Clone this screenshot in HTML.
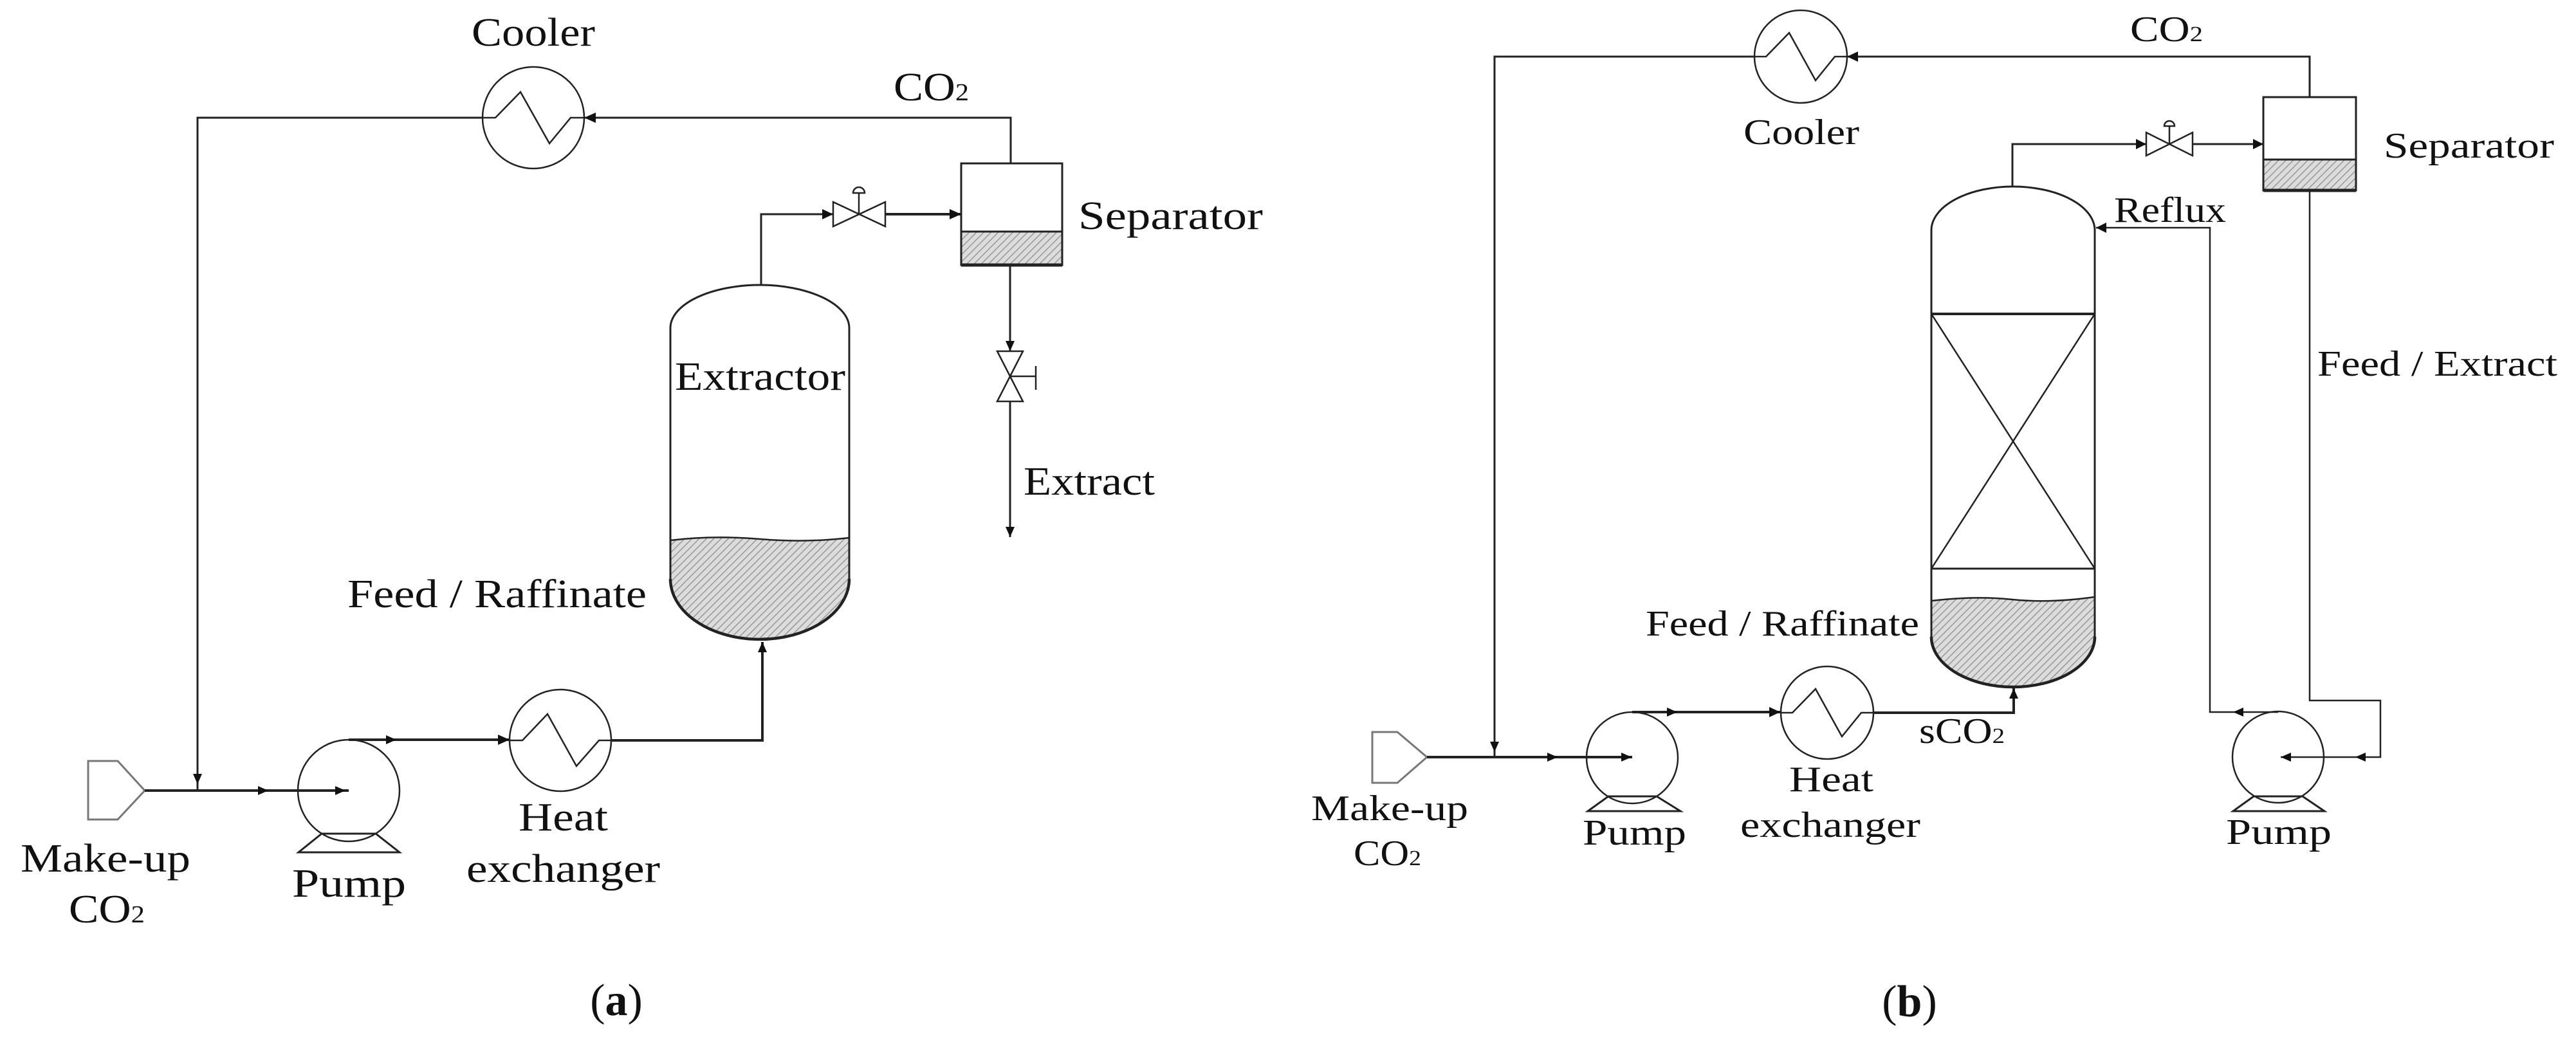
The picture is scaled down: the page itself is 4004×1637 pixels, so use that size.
<!DOCTYPE html>
<html><head><meta charset="utf-8"><style>html,body{margin:0;padding:0;background:#fff}svg{display:block}</style></head>
<body>
<svg width="4004" height="1637" viewBox="0 0 4004 1637" xmlns="http://www.w3.org/2000/svg">
<defs>
<pattern id="h" patternUnits="userSpaceOnUse" width="8" height="8" patternTransform="rotate(45)">
<rect width="8" height="8" fill="#dcdcdc"/><line x1="0" y1="0" x2="0" y2="8" stroke="#8a8a8a" stroke-width="2.5"/>
</pattern>
</defs>
<g fill="none" stroke="#222" stroke-width="3">
<!-- ===== Panel A ===== -->
<!-- top recycle -->
<polyline points="307,1229 307,183 750,183"/>
<polyline points="908,183 1571,183 1571,254"/>
<!-- cooler -->
<circle cx="829" cy="183" r="79" stroke-width="2.5"/>
<polyline points="750,183 770,183 809,143 854,223 887,183 908,183" stroke-width="2.5"/>
<!-- makeup -->
<polygon points="137,1183 183,1183 225,1229 183,1274 137,1274" stroke="#777"/>
<line x1="225" y1="1229" x2="542" y2="1229" stroke-width="4"/>
<!-- pump a -->
<circle cx="542" cy="1229" r="79" stroke-width="2.5"/>
<polygon points="500,1296 464,1325 621,1325 584,1296" stroke-width="3"/>
<polyline points="542,1150 792,1150" stroke-width="4"/>
<!-- HX a -->
<circle cx="871" cy="1151" r="79" stroke-width="2.5"/>
<polyline points="792,1151 812,1151 851,1110 896,1191 931,1151 950,1151" stroke-width="2.5"/>
<polyline points="950,1151 1185,1151 1185,998" stroke-width="4"/>
<!-- extractor -->
<path d="M1042,840 Q1110,832 1181,838 T1320,836 L1320,900 A139,94 0 0 1 1042,900 Z" fill="url(#h)" stroke="none"/>
<path d="M1042,840 Q1110,832 1181,838 T1320,836" stroke-width="2.5"/>
<path d="M1042,900 L1042,510 A139,67 0 0 1 1320,510 L1320,900 A139,94 0 0 1 1042,900 Z"/>
<path d="M1042,900 A139,94 0 0 0 1320,900" stroke-width="4.5"/>
<!-- to separator -->
<polyline points="1183,443 1183,333 1295,333"/>
<line x1="1376" y1="333" x2="1494" y2="333" stroke-width="4"/>
<polygon points="1295,314 1295,352 1376,314 1376,352" stroke-width="2.5"/>
<line x1="1335" y1="333" x2="1335" y2="300" stroke-width="2.5"/>
<path d="M1326,300 A9,9 0 0 1 1344,300 Z" stroke-width="2.5"/>
<!-- separator a -->
<rect x="1494" y="360" width="157" height="52" fill="url(#h)" stroke="none"/>
<rect x="1494" y="254" width="157" height="158"/>
<line x1="1494" y1="360" x2="1651" y2="360"/>
<line x1="1494" y1="412" x2="1651" y2="412" stroke-width="5"/>
<line x1="1570" y1="412" x2="1570" y2="835"/>
<polygon points="1550,546 1590,546 1550,624 1590,624" fill="#fff" stroke-width="2.5"/>
<line x1="1570" y1="585" x2="1610" y2="585" stroke-width="2.5"/>
<line x1="1610" y1="569" x2="1610" y2="606" stroke-width="2.5"/>
<!-- ===== Panel B ===== -->
<polyline points="2323,1177 2323,88 2727,88"/>
<polyline points="2871,88 3590,88 3590,151"/>
<circle cx="2799" cy="88" r="72" stroke-width="2.5"/>
<polyline points="2727,88 2745,88 2781,51 2822,125 2852,88 2871,88" stroke-width="2.5"/>
<polygon points="2133,1138 2172,1138 2218,1177 2172,1217 2133,1217" stroke="#777"/>
<line x1="2218" y1="1177" x2="2537" y2="1177" stroke-width="4"/>
<circle cx="2537" cy="1178" r="71" stroke-width="2.5"/>
<polygon points="2500,1238 2468,1261 2612,1261 2575,1238"/>
<line x1="2537" y1="1107" x2="2768" y2="1107" stroke-width="4"/>
<circle cx="2840" cy="1108" r="72" stroke-width="2.5"/>
<polyline points="2768,1108 2786,1108 2822,1071 2863,1145 2893,1108 2912,1108" stroke-width="2.5"/>
<polyline points="2912,1108 3130,1108 3130,1070" stroke-width="4"/>
<!-- column -->
<path d="M3002,934 Q3070,926 3128,932 T3256,928 L3256,990 A127,78 0 0 1 3002,990 Z" fill="url(#h)" stroke="none"/>
<path d="M3002,934 Q3070,926 3128,932 T3256,928" stroke-width="2.5"/>
<path d="M3002,990 L3002,358 A127,68 0 0 1 3256,358 L3256,990 A127,78 0 0 1 3002,990 Z"/>
<path d="M3002,990 A127,78 0 0 0 3256,990" stroke-width="4.5"/>
<line x1="3002" y1="488" x2="3256" y2="488" stroke-width="4"/>
<line x1="3002" y1="884" x2="3256" y2="884" stroke-width="3"/>
<line x1="3002" y1="488" x2="3256" y2="884" stroke-width="2.5"/>
<line x1="3256" y1="488" x2="3002" y2="884" stroke-width="2.5"/>
<!-- to separator b -->
<polyline points="3128,290 3128,224 3336,224"/>
<line x1="3408" y1="224" x2="3518" y2="224"/>
<polygon points="3336,206 3336,242 3408,206 3408,242" stroke-width="2.5"/>
<line x1="3372" y1="224" x2="3372" y2="196" stroke-width="2.5"/>
<path d="M3364,196 A8,8 0 0 1 3380,196 Z" stroke-width="2.5"/>
<rect x="3518" y="248" width="144" height="48" fill="url(#h)" stroke="none"/>
<rect x="3518" y="151" width="144" height="145"/>
<line x1="3518" y1="248" x2="3662" y2="248"/>
<line x1="3518" y1="296" x2="3662" y2="296" stroke-width="5"/>
<!-- reflux -->
<polyline points="3258,354 3435,354 3435,1107 3541,1107" stroke-width="2.5"/>
<polyline points="3590,296 3590,1089 3700,1089 3700,1177 3545,1177" stroke-width="2.5"/>
<circle cx="3541" cy="1177" r="71" stroke-width="2.5"/>
<polygon points="3503,1238 3471,1261 3613,1261 3579,1238"/>
</g>
<g fill="#111" stroke="none">
<!-- arrows A -->
<polygon points="300,1203 314,1203 307,1219"/>
<polygon points="401,1222 401,1236 417,1229"/>
<polygon points="521,1222 521,1236 537,1229"/>
<polygon points="600,1143 600,1157 616,1150"/>
<polygon points="774,1142 774,1158 792,1150"/>
<polygon points="1178,1014 1192,1014 1185,998"/>
<polygon points="926,175 926,191 908,183"/>
<polygon points="1278,325 1278,341 1295,333"/>
<polygon points="1476,325 1476,341 1494,333"/>
<polygon points="1563,530 1577,530 1570,546"/>
<polygon points="1563,819 1577,819 1570,835"/>
<!-- arrows B -->
<polygon points="2316,1153 2330,1153 2323,1169"/>
<polygon points="2405,1170 2405,1184 2421,1177"/>
<polygon points="2520,1170 2520,1184 2536,1177"/>
<polygon points="2591,1100 2591,1114 2607,1107"/>
<polygon points="2750,1099 2750,1115 2767,1107"/>
<polygon points="3123,1086 3137,1086 3130,1070"/>
<polygon points="2888,80 2888,96 2871,88"/>
<polygon points="3320,216 3320,232 3336,224"/>
<polygon points="3502,216 3502,232 3518,224"/>
<polygon points="3274,346 3274,362 3258,354"/>
<polygon points="3487,1100 3487,1114 3471,1107"/>
<polygon points="3677,1170 3677,1184 3661,1177"/>
<polygon points="3561,1170 3561,1184 3545,1177"/>
</g>
<g font-family="'Liberation Serif', serif" fill="#111" font-size="62" lengthAdjust="spacingAndGlyphs">
<text x="733" y="71" textLength="192" lengthAdjust="spacingAndGlyphs">Cooler</text>
<text x="1389" y="156" textLength="117" lengthAdjust="spacingAndGlyphs">CO<tspan font-size="38">2</tspan></text>
<text x="1676" y="356" textLength="287" lengthAdjust="spacingAndGlyphs">Separator</text>
<text x="1049" y="606" textLength="265" lengthAdjust="spacingAndGlyphs">Extractor</text>
<text x="1591" y="769" textLength="204" lengthAdjust="spacingAndGlyphs">Extract</text>
<text x="540" y="944" textLength="465" lengthAdjust="spacingAndGlyphs">Feed / Raffinate</text>
<text x="806" y="1291" textLength="139" lengthAdjust="spacingAndGlyphs">Heat</text>
<text x="725" y="1371" textLength="301" lengthAdjust="spacingAndGlyphs">exchanger</text>
<text x="32" y="1355" textLength="264" lengthAdjust="spacingAndGlyphs">Make-up</text>
<text x="107" y="1434" textLength="118" lengthAdjust="spacingAndGlyphs">CO<tspan font-size="38">2</tspan></text>
<text x="454" y="1394" textLength="177" lengthAdjust="spacingAndGlyphs">Pump</text>
<text x="958" y="1578" text-anchor="middle" font-size="70">(<tspan font-weight="bold">a</tspan>)</text>
</g>
<g font-family="'Liberation Serif', serif" fill="#111" font-size="56">
<text x="2710" y="224" textLength="180" lengthAdjust="spacingAndGlyphs">Cooler</text>
<text x="3311" y="64" textLength="113" lengthAdjust="spacingAndGlyphs">CO<tspan font-size="34">2</tspan></text>
<text x="3705" y="245" textLength="265" lengthAdjust="spacingAndGlyphs">Separator</text>
<text x="3286" y="345" textLength="174" lengthAdjust="spacingAndGlyphs">Reflux</text>
<text x="3602" y="584" textLength="373" lengthAdjust="spacingAndGlyphs">Feed / Extract</text>
<text x="2558" y="988" textLength="425" lengthAdjust="spacingAndGlyphs">Feed / Raffinate</text>
<text x="2983" y="1155" textLength="133" lengthAdjust="spacingAndGlyphs">sCO<tspan font-size="34">2</tspan></text>
<text x="2781" y="1230" textLength="131" lengthAdjust="spacingAndGlyphs">Heat</text>
<text x="2705" y="1301" textLength="280" lengthAdjust="spacingAndGlyphs">exchanger</text>
<text x="2038" y="1275" textLength="244" lengthAdjust="spacingAndGlyphs">Make-up</text>
<text x="2104" y="1345" textLength="105" lengthAdjust="spacingAndGlyphs">CO<tspan font-size="34">2</tspan></text>
<text x="2460" y="1313" textLength="161" lengthAdjust="spacingAndGlyphs">Pump</text>
<text x="3460" y="1312" textLength="164" lengthAdjust="spacingAndGlyphs">Pump</text>
<text x="2968" y="1580" text-anchor="middle" font-size="70">(<tspan font-weight="bold">b</tspan>)</text>
</g>
</svg>
</body></html>
